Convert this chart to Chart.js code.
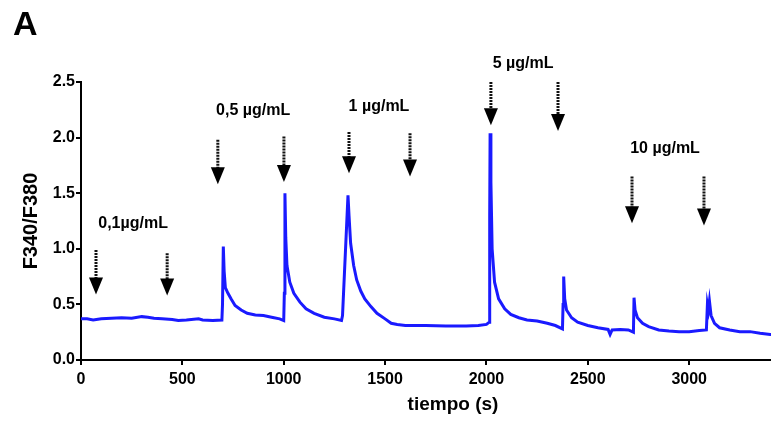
<!DOCTYPE html>
<html>
<head>
<meta charset="utf-8">
<script src="https://cdn.jsdelivr.net/npm/chart.js@4.4.0/dist/chart.umd.min.js"></script>
<style>
  body { margin: 0; background: #fff; overflow: hidden; }
  #wrap { position: relative; width: 771px; height: 422px; overflow: hidden; }
  #panel { position: absolute; left: 13px; top: 4px; font: bold 34px "Liberation Sans", Arial, sans-serif; }
</style>
</head>
<body>
<div id="wrap">
  <canvas id="chart-line" width="826" height="422"></canvas>
  <div id="panel">A</div>
</div>
<script>
// trace: time (s) vs F340/F380
var tiempo = [0, 30, 60, 100, 150, 200, 250, 300, 330, 360, 400, 450, 480, 520, 580, 600, 650, 695,
  698, 702, 706, 712, 725, 740, 760, 790, 820, 860, 900, 940, 980, 1000,
  1003, 1006, 1010, 1016, 1030, 1050, 1080, 1110, 1150, 1200, 1250, 1285,
  1290, 1300, 1310, 1317, 1322, 1330, 1345, 1360, 1380, 1400, 1430, 1460, 1500, 1530, 1560, 1600,
  1650, 1700, 1800, 1900, 1960, 2000, 2014,
  2016, 2018, 2022, 2028, 2040, 2060, 2090, 2120, 2160, 2200, 2250, 2300, 2340, 2375,
  2378, 2381, 2386, 2395, 2420, 2450, 2500, 2550, 2600, 2610, 2620, 2660, 2700, 2725,
  2728, 2733, 2745, 2770, 2800, 2850, 2900, 2950, 3000, 3050, 3085,
  3090, 3095, 3100, 3108, 3125, 3150, 3200, 3250, 3300, 3350, 3400, 3450]
var ratio = [0.37, 0.37, 0.36, 0.37, 0.375, 0.38, 0.375, 0.39, 0.385, 0.375, 0.37, 0.365, 0.355, 0.36, 0.37, 0.36, 0.355, 0.36,
  0.5, 1.02, 0.8, 0.65, 0.6, 0.55, 0.49, 0.45, 0.42, 0.405, 0.4, 0.385, 0.37, 0.355,
  0.6, 1.5, 1.1, 0.85, 0.7, 0.6, 0.52, 0.46, 0.42, 0.385, 0.37, 0.355,
  0.4, 0.8, 1.2, 1.48, 1.3, 1.05, 0.85, 0.72, 0.62, 0.55, 0.48, 0.42, 0.37, 0.33, 0.32, 0.31,
  0.31, 0.31, 0.305, 0.305, 0.31, 0.32, 0.34,
  1.3, 2.04, 1.6, 1.0, 0.7, 0.55, 0.46, 0.41, 0.38, 0.36, 0.35, 0.33, 0.31, 0.28,
  0.5, 0.75, 0.55, 0.45, 0.38, 0.34, 0.31, 0.29, 0.275, 0.23, 0.27, 0.275, 0.27, 0.25,
  0.56, 0.45, 0.38, 0.33, 0.3, 0.27, 0.26, 0.255, 0.255, 0.265, 0.27,
  0.5, 0.45, 0.53, 0.4, 0.33, 0.29, 0.27, 0.255, 0.255, 0.24, 0.23, 0.23]

// arrows: time, shaft top, tip (axis units)
var flechaX = [74, 425, 675, 1001, 1322, 1623, 2022, 2353, 2718, 3073]
var flechaTop = [0.99, 0.96, 1.98, 2.01, 2.05, 2.04, 2.50, 2.50, 1.65, 1.65]
var flechaTip = [0.59, 0.58, 1.58, 1.60, 1.68, 1.65, 2.11, 2.06, 1.23, 1.21]

// dose labels
var dosis = ["0,1µg/mL", "0,5 µg/mL", "1 µg/mL", "5 µg/mL", "10 µg/mL"]
var dosisX = [257, 849, 1470, 2181, 2881]
var dosisY = [1.23, 2.24, 2.28, 2.67, 1.90]

var xTicks = [0, 500, 1000, 1500, 2000, 2500, 3000]
var yTicks = [0, 0.5, 1.0, 1.5, 2.0, 2.5]

var pts = tiempo.map((t, i) => ({ x: t, y: ratio[i] }))
var fuente = '"Liberation Sans", Arial, sans-serif'

var flechas = {
  id: 'flechas',
  afterDatasetsDraw: function (chart) {
    var c = chart.ctx, xs = chart.scales.x, ys = chart.scales.y
    c.save()
    flechaX.map((t, i) => {
      var px = xs.getPixelForValue(t)
      var top = ys.getPixelForValue(flechaTop[i])
      var tip = ys.getPixelForValue(flechaTip[i])
      var headH = 17
      c.strokeStyle = '#111'
      c.lineWidth = 3
      c.setLineDash([2, 1])
      c.beginPath()
      c.moveTo(px, top)
      c.lineTo(px, tip - headH + 1)
      c.stroke()
      c.setLineDash([])
      c.fillStyle = '#000'
      c.beginPath()
      c.moveTo(px - 7, tip - headH)
      c.lineTo(px + 7, tip - headH)
      c.lineTo(px, tip)
      c.closePath()
      c.fill()
    })
    c.font = 'bold 16px ' + fuente
    c.fillStyle = '#000'
    c.textAlign = 'center'
    c.textBaseline = 'middle'
    dosis.map((d, i) => {
      c.fillText(d, xs.getPixelForValue(dosisX[i]), ys.getPixelForValue(dosisY[i]))
    })
    c.restore()
  }
}

var ctx = document.getElementById('chart-line')
var myLineChart = new Chart(ctx, {
  type: 'line',
  data: {
    datasets: [{
      data: pts,
      borderColor: '#1a1aff',
      borderWidth: 3,
      pointRadius: 0,
      tension: 0,
      fill: false
    }]
  },
  options: {
    responsive: false,
    animation: false,
    events: [],
    layout: { padding: { top: 82, right: 1, bottom: 0, left: 15 } },
    plugins: { legend: { display: false }, tooltip: { enabled: false } },
    scales: {
      x: {
        type: 'linear',
        min: 0,
        max: 3670,
        afterFit: function (s) { s.height = 62 },
        afterBuildTicks: function (s) { s.ticks = xTicks.map(v => ({ value: v })) },
        border: { display: true, color: '#000', width: 2 },
        grid: { display: true, drawOnChartArea: false, drawTicks: true, tickLength: 5, color: '#000', lineWidth: 2 },
        ticks: {
          color: '#000',
          padding: 5,
          maxRotation: 0,
          font: { family: fuente, size: 16, weight: 'bold' },
          callback: v => String(v)
        },
        title: {
          display: true,
          text: 'tiempo (s)',
          color: '#000',
          padding: { top: 4, bottom: 6 },
          font: { family: fuente, size: 19, weight: 'bold' }
        }
      },
      y: {
        min: 0,
        max: 2.5,
        afterFit: function (s) { s.width = 66 },
        afterBuildTicks: function (s) { s.ticks = yTicks.map(v => ({ value: v })) },
        border: { display: true, color: '#000', width: 2 },
        grid: { display: true, drawOnChartArea: false, drawTicks: true, tickLength: 5, color: '#000', lineWidth: 2 },
        ticks: {
          color: '#000',
          padding: 1,
          font: { family: fuente, size: 16, weight: 'bold' },
          callback: v => v.toFixed(1)
        },
        title: {
          display: true,
          text: 'F340/F380',
          color: '#000',
          padding: { top: 4, bottom: 4 },
          font: { family: fuente, size: 20, weight: 'bold' }
        }
      }
    }
  },
  plugins: [flechas]
})
</script>
</body>
</html>
